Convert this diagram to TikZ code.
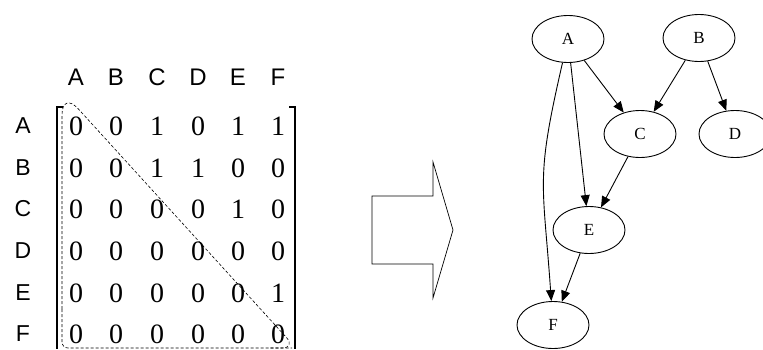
\documentclass[tikz,border=0pt]{standalone}
\usepackage{fontspec}
\setmainfont{Liberation Serif}
\newfontfamily\arial{Liberation Sans}
\usetikzlibrary{arrows.meta,shapes.geometric}
\tikzset{
  hdr/.style={font=\arial\fontsize{24}{24}\selectfont, inner sep=0pt},
  rowlab/.style={font=\arial\fontsize{23}{23}\selectfont, inner sep=0pt},
  entry/.style={font=\fontsize{28}{28}\selectfont, inner sep=0pt},
  vtx/.style={draw, ellipse, line width=0.9pt, minimum width=72pt, minimum height=47pt,
              inner sep=0pt, font=\fontsize{17}{17}\selectfont},
  arr/.style={-{Triangle[length=11pt,width=9pt]}, line width=0.9pt},
  brk/.style={line width=1.2pt},
  tri/.style={dash pattern=on 3pt off 2pt, line width=0.6pt},
}
\begin{document}
\begin{tikzpicture}[x=1pt,y=1pt]
    \useasboundingbox (0,0) rectangle (763,349);
    % matrix headers and entries
    \foreach \c/\lab/\x in {1/A/76,2/B/116,3/C/157,4/D/198,5/E/238,6/F/278}
      \node[hdr] (h\c) at (\x,272) {\lab};
    \foreach \r/\lab/\y/\vals in {1/A/223/{0,0,1,0,1,1},2/B/181/{0,0,1,1,0,0},3/C/140/{0,0,0,0,1,0},
                                  4/D/98/{0,0,0,0,0,0},5/E/56/{0,0,0,0,0,1},6/F/15/{0,0,0,0,0,0}} {
      \node[rowlab] (r\r) at (23,\y) {\lab};
      \foreach \v [count=\c] in \vals
        \node[entry] (m\r\c) at (h\c.center |- r\r.center) {\v};
    }
    % brackets
    \draw[brk] (63,242) -- (57,242) -- (57,0);
    \draw[brk] (289,242) -- (295,242) -- (295,0);
    % upper triangle
    \draw[tri, rounded corners=6pt] (62,40) -- (62,1) -- (292,1);
    \draw[tri] (62,40) [rounded corners=24pt] -- (62,258) [rounded corners=14pt] -- (296,1) -- (270,1);
    % hollow arrow
    \draw[line width=0.7pt] (372,153) -- (433,153) -- (433,187) -- (453,119) -- (433,51) -- (433,85) -- (372,85) -- cycle;
    % graph
    \node[vtx] (A) at (568,310) {A};
    \node[vtx] (B) at (699,311) {B};
    \node[vtx] (C) at (640,215) {C};
    \node[vtx] (D) at (735,215) {D};
    \node[vtx] (E) at (589,119) {E};
    \node[vtx] (F) at (553,24) {F};
    \draw[arr] (A) -- (C);
    \draw[arr] (A) -- (E);
    \draw[arr] (A) to[out=-103,in=94,looseness=1.3] (F);
    \draw[arr] (B) -- (C);
    \draw[arr] (B) -- (D);
    \draw[arr] (C) -- (E);
    \draw[arr] (E) -- (F);
\end{tikzpicture}
\end{document}
